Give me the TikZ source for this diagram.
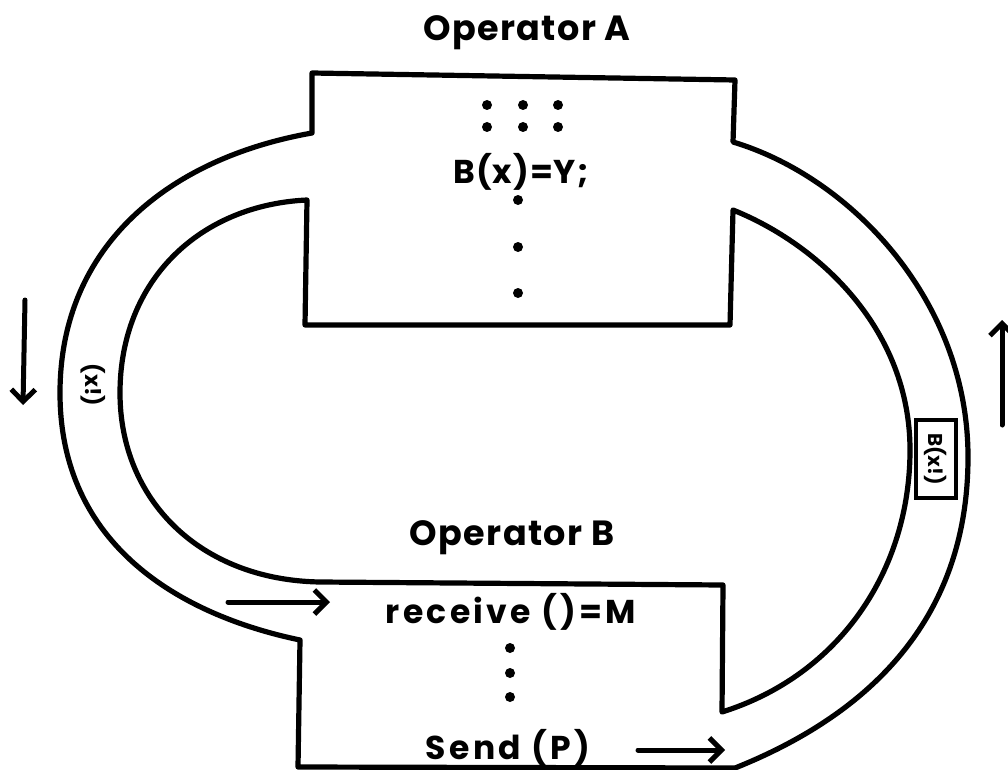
\documentclass[tikz,border=0pt]{standalone}
\usepackage{fontspec}
\setmainfont{Poppins}
\newfontfamily\spA[LetterSpace=4]{Poppins}
\newfontfamily\spB[LetterSpace=10]{Poppins}
\newfontfamily\spC[LetterSpace=3]{Poppins}
\usetikzlibrary{arrows.meta}
\begin{document}
\begin{tikzpicture}[x=1pt,y=-1pt,
  ln/.style={line width=5.2pt,line join=round,line cap=round},
  arr/.style={line width=5pt,line cap=round,-{Straight Barb[length=12pt,width=24pt,line width=5pt]}},
  title/.style={font=\spA\bfseries\fontsize{35}{40}\selectfont,inner sep=0pt},
  code/.style={font=\spB\bfseries\fontsize{33}{38}\selectfont,inner sep=0pt},
  codeA/.style={font=\spC\bfseries\fontsize{33}{38}\selectfont,inner sep=0pt},
  small/.style={font=\bfseries\fontsize{22}{24}\selectfont,inner sep=0pt,rotate=-90},
  dotmark/.style={circle,fill=black,inner sep=0pt,minimum size=10pt}]
\useasboundingbox (0,0) rectangle (1008,770);
% outer contour
\draw[ln] (733,142) -- (735,80) -- (312,73) -- (312,133)
  .. controls (170,158) and (60,245) .. (60,393)
  .. controls (60,545) and (180,615) .. (300,640)
  -- (298,767) -- (735,768)
  .. controls (880,710) and (968,610) .. (968,457)
  .. controls (968,300) and (850,177) .. (733,142) -- cycle;
% inner contour
\draw[ln] (307,200) -- (305,325) -- (730,325) -- (733,210)
  .. controls (820,245) and (910,330) .. (910,450)
  .. controls (910,570) and (840,675) .. (722,712)
  -- (723,585) -- (320,582)
  .. controls (200,580) and (120,500) .. (120,393)
  .. controls (120,280) and (200,205) .. (307,200) -- cycle;
% texts
\node[title] (opA) at (527,33) {Operator A};
\node[title] (opB) at (512,538) {Operator B};
\node[codeA] (bx) at (521,172) {B(x)=Y;};
\node[code] (recv) at (511,612) {receive ()=M};
\node[code] (send) at (508,748) {Send (P)};
% dots
\node[dotmark] (d1) at (487,105) {};
\node[dotmark] (d2) at (523,105) {};
\node[dotmark] (d3) at (558,105) {};
\node[dotmark] (d4) at (487,127) {};
\node[dotmark] (d5) at (523,127) {};
\node[dotmark] (d6) at (558,127) {};
\node[dotmark] (d7) at (518,200) {};
\node[dotmark] (d8) at (518,247) {};
\node[dotmark] (d9) at (518,293) {};
\node[dotmark] (e1) at (510,648) {};
\node[dotmark] (e2) at (510,673) {};
\node[dotmark] (e3) at (510,697) {};
% pipe labels
\node[small] (lx) at (93,385) {(x!)};
\node[small,draw,line width=3.5pt,minimum width=78pt,minimum height=40pt,font=\bfseries\fontsize{20}{22}\selectfont] (rx) at (936,459) {B(x!)};
% arrows
\coordinate (a1s) at (25,300); \coordinate (a1e) at (23,405);
\coordinate (a2s) at (1002,425); \coordinate (a2e) at (1002,320);
\coordinate (a3s) at (228,602); \coordinate (a3e) at (330,602);
\coordinate (a4s) at (638,750); \coordinate (a4e) at (725,750);
\draw[arr] (a1s) -- (a1e);
\draw[arr] (a2s) -- (a2e);
\draw[arr] (a3s) -- (a3e);
\draw[arr] (a4s) -- (a4e);
\end{tikzpicture}
\end{document}
